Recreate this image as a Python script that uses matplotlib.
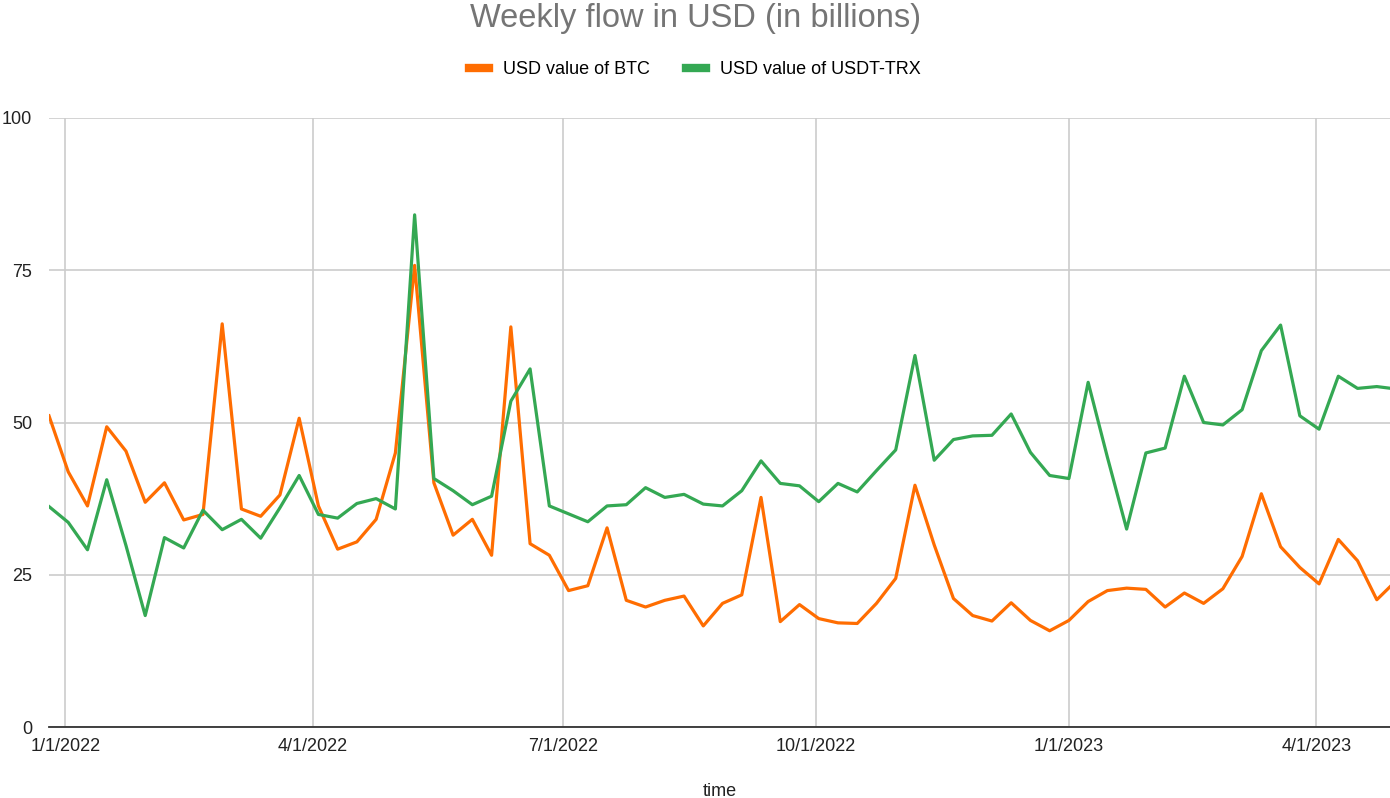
import pandas as pd
import matplotlib
matplotlib.use("Agg")
import matplotlib.pyplot as plt

# weekly points starting 2021-12-26
START = "2021-12-26"
N_WEEKS = 71

btc = [51.1, 41.9, 36.3, 49.3, 45.3, 36.9, 40.1, 34.0, 34.9, 66.2,
       35.8, 34.6, 38.1, 50.7, 36.3, 29.2, 30.4, 34.1, 45.0, 75.8,
       40.1, 31.5, 34.1, 28.2, 65.7, 30.1, 28.2, 22.4, 23.2, 32.7,
       20.8, 19.7, 20.8, 21.5, 16.6, 20.3, 21.7, 37.7, 17.3, 20.1,
       17.8, 17.1, 17.0, 20.3, 24.4, 39.7, 29.9, 21.1, 18.3, 17.4,
       20.4, 17.5, 15.8, 17.5, 20.6, 22.4, 22.8, 22.6, 19.7, 22.0,
       20.3, 22.7, 28.0, 38.3, 29.6, 26.2, 23.5, 30.8, 27.3, 20.9,
       24.0]

usdt_trx = [36.2, 33.6, 29.1, 40.6, 29.8, 18.3, 31.1, 29.4, 35.6, 32.4,
            34.1, 31.0, 36.0, 41.3, 34.9, 34.3, 36.7, 37.5, 35.8, 84.1,
            40.8, 38.8, 36.5, 37.9, 53.5, 58.8, 36.3, 35.0, 33.7, 36.3,
            36.5, 39.3, 37.7, 38.2, 36.6, 36.3, 38.8, 43.7, 40.0, 39.6,
            37.0, 40.0, 38.6, 42.1, 45.5, 61.0, 43.8, 47.2, 47.8, 47.9,
            51.4, 45.1, 41.3, 40.8, 56.6, 44.3, 32.5, 45.0, 45.8, 57.6,
            50.0, 49.6, 52.1, 61.8, 66.0, 51.1, 48.9, 57.6, 55.6, 55.9,
            55.5]

tick_dates = ["2022-01-01", "2022-04-01", "2022-07-01", "2022-10-01",
              "2023-01-01", "2023-04-01"]
tick_labels = ["1/1/2022", "4/1/2022", "7/1/2022", "10/1/2022",
               "1/1/2023", "4/1/2023"]
y_ticks = [0, 25, 50, 75, 100]

dates = pd.date_range(START, periods=N_WEEKS, freq="7D")

plt.rcParams["font.family"] = ["Liberation Sans", "DejaVu Sans"]

fig = plt.figure(figsize=(13.9, 7.98), dpi=100)
ax = fig.add_axes([49 / 1390, 71 / 798, 1341 / 1390, 609 / 798])

ax.plot(dates, btc, color="#ff6d01", linewidth=2.3, label="USD value of BTC")
ax.plot(dates, usdt_trx, color="#34a853", linewidth=2.3, label="USD value of USDT-TRX")

ax.set_xlim(dates[0], dates[0] + pd.Timedelta(days=487.8))
ax.set_ylim(0, 100)
ax.set_yticks(y_ticks)
ax.set_xticks(pd.to_datetime(tick_dates))
ax.set_xticklabels(tick_labels)

ax.grid(True, color="#cccccc", linewidth=1.2)
ax.set_axisbelow(True)
for side in ["left", "right", "top"]:
    ax.spines[side].set_visible(False)
ax.spines["bottom"].set_color("#333333")
ax.spines["bottom"].set_linewidth(1.3)
ax.tick_params(axis="both", length=0, labelsize=13, colors="#222222")
ax.tick_params(axis="x", pad=8)
ax.tick_params(axis="y", pad=12)

ax.set_xlabel("time", fontsize=13, color="#222222", labelpad=20)

fig.text(0.5, 1 - 19 / 798, "Weekly flow in USD (in billions)", ha="center", va="center",
         fontsize=23.5, color="#757575")

fig.legend(loc="center", bbox_to_anchor=(0.5, 1 - 70 / 798), ncol=2, frameon=False,
           fontsize=13, handlelength=1.1, handletextpad=0.8, columnspacing=2.0)
for h in fig.legends[0].get_lines():
    h.set_linewidth(6)

fig.savefig("out.png", dpi=100)
